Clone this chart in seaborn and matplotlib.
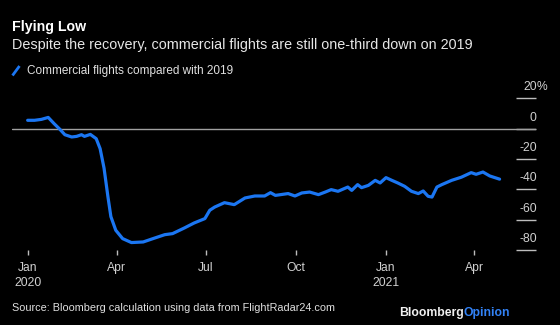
import matplotlib
matplotlib.use("Agg")
import matplotlib.pyplot as plt
import matplotlib.transforms as mtransforms
from matplotlib.lines import Line2D
import seaborn as sns
import pandas as pd

# ---- data ----
dates = [
    "2020-01-01", "2020-01-08", "2020-01-15", "2020-01-22", "2020-01-28",
    "2020-02-03", "2020-02-08", "2020-02-15", "2020-02-20", "2020-02-25",
    "2020-02-28", "2020-03-05", "2020-03-11", "2020-03-15", "2020-03-19",
    "2020-03-23", "2020-03-26", "2020-03-31", "2020-04-07", "2020-04-16",
    "2020-04-28", "2020-05-08", "2020-05-20", "2020-05-28", "2020-06-09",
    "2020-06-19", "2020-06-30", "2020-07-05", "2020-07-10", "2020-07-20",
    "2020-07-30", "2020-08-10", "2020-08-20", "2020-08-30", "2020-09-05",
    "2020-09-10", "2020-09-23", "2020-09-30", "2020-10-07", "2020-10-15",
    "2020-10-24", "2020-10-31", "2020-11-06", "2020-11-13", "2020-11-23",
    "2020-11-27", "2020-12-03", "2020-12-07", "2020-12-14", "2020-12-21",
    "2020-12-26", "2021-01-01", "2021-01-07", "2021-01-13", "2021-01-20",
    "2021-01-27", "2021-02-03", "2021-02-08", "2021-02-13", "2021-02-17",
    "2021-02-22", "2021-02-27", "2021-03-09", "2021-03-19", "2021-03-29",
    "2021-04-03", "2021-04-10", "2021-04-17", "2021-04-27",
]
values = [
    5.5, 5.5, 6.1, 7.4, 3.3,
    -0.5, -4.0, -5.5, -5.1, -4.0,
    -5.1, -3.8, -6.6, -13.2, -26.0,
    -45.0, -58.0, -67.0, -72.5, -75.1,
    -74.7, -72.5, -69.9, -69.2, -65.5,
    -62.2, -59.3, -53.8, -51.7, -48.8,
    -50.1, -45.7, -44.4, -44.4, -42.2,
    -44.0, -42.8, -44.4, -42.4, -41.8,
    -43.5, -41.8, -40.2, -41.3, -38.5,
    -40.7, -36.9, -38.9, -37.4, -34.1,
    -35.8, -32.3, -34.1, -35.8, -38.0,
    -41.3, -42.8, -41.1, -44.6, -45.1,
    -38.5, -36.9, -34.1, -32.0, -29.0,
    -30.1, -28.6, -31.2, -33.3,
]
tick_dates = ["2020-01-01", "2020-04-01", "2020-07-01", "2020-10-01", "2021-01-01", "2021-04-01"]
tick_labels = ["Jan\n2020", "Apr", "Jul", "Oct", "Jan\n2021", "Apr"]
y_ticks = [20, 0, -20, -40, -60, -80]
y_tick_labels = ["20", "0", "-20", "-40", "-60", "-80"]

title = "Flying Low"
subtitle = "Despite the recovery, commercial flights are still one-third down on 2019"
series_name = "Commercial flights compared with 2019"
source = "Source: Bloomberg calculation using data from FlightRadar24.com"

BLUE = "#1b76f2"
BG = "black"

sns.set_theme(style="dark")
plt.rcParams["font.family"] = ["Liberation Sans", "DejaVu Sans"]

W, H = 560, 325
fig = plt.figure(figsize=(W / 100, H / 100), dpi=100, facecolor=BG)
ax = fig.add_axes([12 / W, 1 - 250 / H, 524 / W, (250 - 98.3) / H])
ax.set_facecolor(BG)

df = pd.DataFrame({"date": pd.to_datetime(dates), "value": values})
sns.lineplot(data=df, x="date", y="value", ax=ax, color=BLUE, linewidth=2.3,
             legend=False, zorder=3)
ax.axhline(0, color="#a0a0a0", linewidth=1.0, zorder=2)

ax.set_ylim(-80, 20)
start = pd.Timestamp("2020-01-01")
ax.set_xlim(start - pd.Timedelta(days=16.0), start + pd.Timedelta(days=519.2))

for s in ax.spines.values():
    s.set_visible(False)
ax.grid(False)
ax.set_xlabel("")
ax.set_ylabel("")

# x axis
ax.set_xticks(pd.to_datetime(tick_dates))
ax.set_xticklabels(tick_labels, linespacing=1.3)
ax.tick_params(axis="x", bottom=True, direction="out", length=3.5, width=1,
               color="#bdbdbd", labelcolor="#d0d0d0", labelsize=8.7, pad=5)

# y axis: dashes on the right, labels sitting above them
ax.yaxis.tick_right()
ax.set_yticks(y_ticks)
ax.set_yticklabels([])
ax.tick_params(axis="y", left=False, right=True, direction="in", length=14.4,
               width=1, color="#bdbdbd")
trans = mtransforms.offset_copy(
    mtransforms.blended_transform_factory(ax.transAxes, ax.transData),
    fig=fig, x=0.7, y=11, units="dots")
for v, lab in zip(y_ticks, y_tick_labels):
    ax.text(1.0, v, lab, transform=trans, ha="right", va="center",
            color="#d0d0d0", fontsize=8.7, clip_on=False)
    if v == max(y_ticks):
        ax.text(1.0, v, "%", transform=trans, ha="left", va="center",
                color="#d0d0d0", fontsize=8.7, clip_on=False)

# titles
t_title = fig.text(11.7 / W, 1 - 26.7 / H, title, color="white", fontsize=11.5,
                   fontweight="bold", va="center", ha="left")
t_sub = fig.text(11.7 / W, 1 - 44.5 / H, subtitle, color="#e6e6e6", fontsize=10,
                 va="center", ha="left")

# legend
fig.add_artist(Line2D([12.5 / W, 19.5 / W], [1 - 75.5 / H, 1 - 66 / H],
                      color=BLUE, linewidth=2.0, transform=fig.transFigure,
                      solid_capstyle="butt"))
t_leg = fig.text(27 / W, 1 - 70.7 / H, series_name, color="#e0e0e0", fontsize=8.5,
                 va="center", ha="left")

# source and brand
t_src = fig.text(11.7 / W, 1 - 308.3 / H, source, color="#e0e0e0", fontsize=8.5,
                 va="center", ha="left")
t_op = fig.text(510 / W, 1 - 312.7 / H, "Opinion", color="#3282f6", fontsize=9.5,
                fontweight="bold", va="center", ha="right")
t_bb = ax.annotate("Bloomberg", xy=(0, 0.5), xycoords=t_op, ha="right",
                   va="center", color="#f0f0f0", fontsize=9.5, fontweight="bold",
                   annotation_clip=False)

# fit text widths to the reference
fig.canvas.draw()
r = fig.canvas.get_renderer()
for t, target in [(t_title, 74.5), (t_sub, 461), (t_leg, 205), (t_src, 320)]:
    w = t.get_window_extent(r).width
    t.set_fontsize(t.get_fontsize() * target / w)
w = t_op.get_window_extent(r).width + t_bb.get_window_extent(r).width
for t in (t_op, t_bb):
    t.set_fontsize(t.get_fontsize() * 111 / w)

fig.savefig("out.png", dpi=100, facecolor=BG)
